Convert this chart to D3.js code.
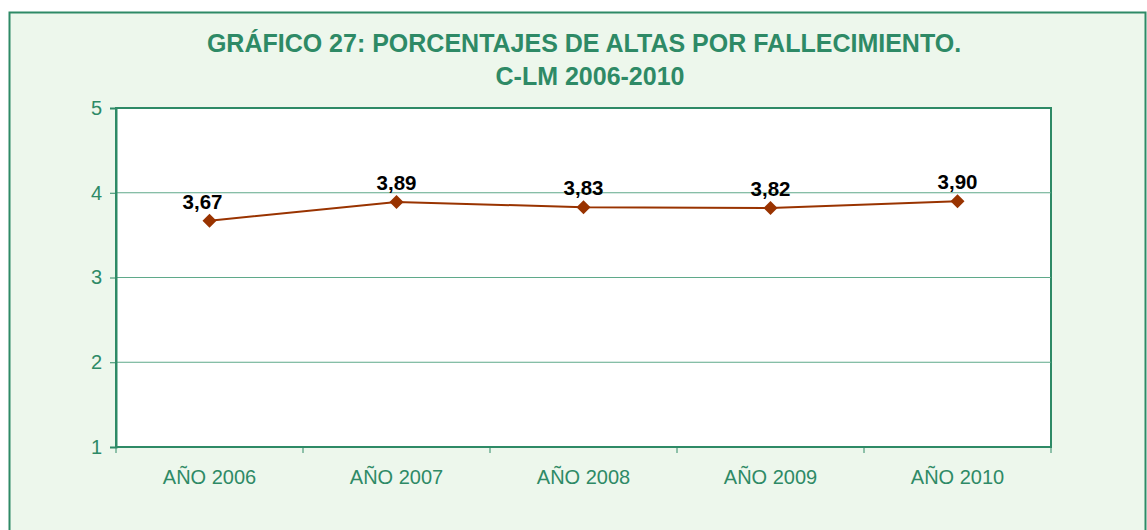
<!DOCTYPE html>
<html>
<head>
<meta charset="utf-8">
<script src="https://cdn.jsdelivr.net/npm/d3@7"></script>
<style>
  body { margin: 0; background: #ffffff; }
  svg text { font-family: Arial, "Liberation Sans", sans-serif; }
</style>
</head>
<body>
<div id="chart"></div>
<script>
// data
var years = ["AÑO 2006", "AÑO 2007", "AÑO 2008", "AÑO 2009", "AÑO 2010"];
var values = [3.67, 3.89, 3.83, 3.82, 3.90];
var yTicks = [1, 2, 3, 4, 5];
var titleLines = ["GRÁFICO 27: PORCENTAJES DE ALTAS POR FALLECIMIENTO.", "C-LM 2006-2010"];

var W = 1147, H = 530;
var green = "#2E8A66";
var margin = { top: 108, right: 96, bottom: 83, left: 116 },
    width = W - margin.left - margin.right,
    height = H - margin.top - margin.bottom;

var svg = d3.select("#chart").append("svg")
    .attr("width", W)
    .attr("height", H);

// outer frame
svg.append("rect")
    .attr("x", 9.5).attr("y", 12.5)
    .attr("width", 1136).attr("height", 540)
    .attr("fill", "#EDF7EC")
    .attr("stroke", green)
    .attr("stroke-width", 2);

// title
svg.append("text")
    .attr("x", 584).attr("y", 52)
    .attr("text-anchor", "middle")
    .style("font-weight", "bold")
    .style("font-size", "25px")
    .style("fill", green)
    .text(titleLines[0]);
svg.append("text")
    .attr("x", 590).attr("y", 85)
    .attr("text-anchor", "middle")
    .style("font-weight", "bold")
    .style("font-size", "25px")
    .style("fill", green)
    .text(titleLines[1]);

var g = svg.append("g")
    .attr("transform", "translate(" + margin.left + "," + margin.top + ")");

var x = d3.scaleBand().domain(years).range([0, width]);
var y = d3.scaleLinear().domain([1, 5]).range([height, 0]);

// plot area
g.append("rect")
    .attr("width", width).attr("height", height)
    .attr("fill", "#ffffff")
    .attr("stroke", green)
    .attr("stroke-width", 2);

// gridlines
g.selectAll(".grid")
    .data(yTicks.slice(1, -1))
    .enter().append("line")
    .attr("class", "grid")
    .attr("x1", 0).attr("x2", width)
    .attr("y1", d => y(d)).attr("y2", d => y(d))
    .attr("stroke", "#5FA98A")
    .attr("stroke-width", 1);

// y axis
var yAxis = g.append("g")
    .call(d3.axisLeft(y).tickValues(yTicks).tickSize(6).tickPadding(8).tickFormat(d3.format("d")));
yAxis.select(".domain").attr("stroke", green).attr("stroke-width", 2);
yAxis.selectAll(".tick line").attr("stroke", green);
yAxis.selectAll("text")
    .style("font-size", "20px")
    .style("fill", green);

// x axis: ticks at band boundaries
var xAxis = g.append("g")
    .attr("transform", "translate(0," + height + ")");
xAxis.append("line")
    .attr("x1", 0).attr("x2", width)
    .attr("stroke", green).attr("stroke-width", 2);
xAxis.selectAll(".xtick")
    .data(years.concat([null]))
    .enter().append("line")
    .attr("class", "xtick")
    .attr("x1", (d, i) => i * x.step())
    .attr("x2", (d, i) => i * x.step())
    .attr("y1", 0).attr("y2", 6)
    .attr("stroke", green);
xAxis.selectAll(".xlabel")
    .data(years)
    .enter().append("text")
    .attr("class", "xlabel")
    .attr("x", d => x(d) + x.bandwidth() / 2)
    .attr("y", 37)
    .attr("text-anchor", "middle")
    .style("font-size", "20px")
    .style("fill", green)
    .text(d => d);

// line
var line = d3.line()
    .x((d, i) => x(years[i]) + x.bandwidth() / 2)
    .y(d => y(d));

g.append("path")
    .datum(values)
    .attr("d", line)
    .attr("fill", "none")
    .attr("stroke", "#993300")
    .attr("stroke-width", 2);

// diamond markers
var r = 7;
g.selectAll(".marker")
    .data(values)
    .enter().append("path")
    .attr("class", "marker")
    .attr("transform", (d, i) => "translate(" + (x(years[i]) + x.bandwidth() / 2) + "," + y(d) + ")")
    .attr("d", "M0," + (-r) + "L" + r + ",0L0," + r + "L" + (-r) + ",0Z")
    .attr("fill", "#993300");

// data labels
g.selectAll(".label")
    .data(values)
    .enter().append("text")
    .attr("class", "label")
    .attr("x", (d, i) => x(years[i]) + x.bandwidth() / 2 - (i === 0 ? 7 : 0))
    .attr("y", d => y(d) - 12)
    .attr("text-anchor", "middle")
    .style("font-weight", "bold")
    .style("font-size", "20.5px")
    .style("fill", "#000")
    .text(d => d3.format(".2f")(d).replace(".", ","));
</script>
</body>
</html>
